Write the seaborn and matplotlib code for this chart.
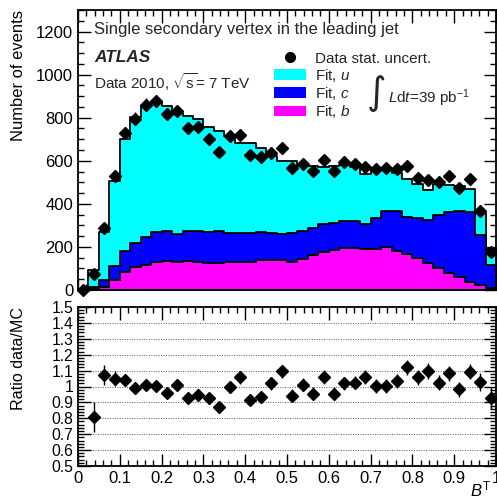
import numpy as np
import pandas as pd
import matplotlib
matplotlib.use("Agg")
import matplotlib.pyplot as plt
from matplotlib.lines import Line2D
from matplotlib.patches import Patch
from matplotlib.ticker import MultipleLocator, FixedLocator, FixedFormatter
import seaborn as sns

# ---- binning: 40 bins of B^T between 0 and 1 ----
n_bins = 40
x_min, x_max = 0.0, 1.0
bin_edges = np.linspace(x_min, x_max, n_bins + 1)
bin_centers = 0.5 * (bin_edges[:-1] + bin_edges[1:])

# ---- observed events per bin ----
data_counts = [0, 75, 289, 531, 728, 796, 861, 878, 818, 830,
               753, 755, 702, 641, 714, 720, 626, 616, 636, 657,
               566, 584, 551, 603, 551, 594, 585, 571, 563, 566,
               563, 577, 521, 512, 503, 529, 474, 515, 366, 178]

# ---- fitted flavour templates (events per bin) ----
fit_u = [0, 81, 223, 394, 517, 585, 607, 605, 581, 559,
         537, 519, 492, 462, 451, 417, 418, 390, 360, 342,
         336, 305, 288, 264, 268, 261, 250, 233, 227, 195,
         178, 177, 158, 143, 142, 127, 118, 109, 100, 76]
fit_c = [0, 9, 32, 65, 98, 114, 129, 138, 137, 131,
         139, 146, 141, 148, 135, 135, 135, 131, 124, 121,
         134, 129, 127, 128, 124, 127, 127, 118, 143, 170,
         182, 170, 186, 196, 248, 281, 306, 323, 233, 108]
fit_b = [0, 3, 15, 47, 85, 106, 116, 132, 135, 130,
         134, 130, 126, 127, 129, 129, 129, 137, 140, 137,
         130, 143, 163, 178, 186, 194, 194, 189, 191, 199,
         183, 168, 148, 127, 101, 81, 59, 39, 23, 8]

flavours = ["u", "c", "b"]
flavour_colors = {"u": "#00FFFF", "c": "#0000FF", "b": "#FF00FF"}

# ---- axis ticks ----
count_ticks = [0, 200, 400, 600, 800, 1000, 1200]
count_tick_labels = ["0", "200", "400", "600", "800", "1000", "1200"]
ratio_ticks = [0.5, 0.6, 0.7, 0.8, 0.9, 1.0, 1.1, 1.2, 1.3, 1.4, 1.5]
ratio_tick_labels = ["0.5", "0.6", "0.7", "0.8", "0.9", "1", "1.1", "1.2", "1.3", "1.4", "1.5"]
x_ticks = [0, 0.1, 0.2, 0.3, 0.4, 0.5, 0.6, 0.7, 0.8, 0.9, 1.0]
x_tick_labels = ["0", "0.1", "0.2", "0.3", "0.4", "0.5", "0.6", "0.7", "0.8", "0.9", "1"]

# ---- derived quantities ----
data_arr = np.asarray(data_counts, dtype=float)
mc_total = np.asarray(fit_u) + np.asarray(fit_c) + np.asarray(fit_b)
data_err = np.sqrt(data_arr)
has_mc = mc_total > 0
ratio = data_arr[has_mc] / mc_total[has_mc]
ratio_err = data_err[has_mc] / mc_total[has_mc]

templates = pd.DataFrame({
    "BT": np.tile(bin_centers, 3),
    "events": np.concatenate([fit_u, fit_c, fit_b]),
    "flavour": np.repeat(flavours, n_bins),
})

# ---- style ----
sns.set_theme(style="white")
plt.rcParams["font.family"] = ["Liberation Sans", "DejaVu Sans"]
plt.rcParams["mathtext.fontset"] = "custom"
plt.rcParams["mathtext.rm"] = "Liberation Sans"
plt.rcParams["mathtext.it"] = "Liberation Sans:italic"
plt.rcParams["mathtext.bf"] = "Liberation Sans:bold"
FS = 11

W, H = 497, 499
fig = plt.figure(figsize=(W / 100, H / 100), dpi=100)
ax_top = fig.add_axes([78 / W, 1 - 290 / H, 418 / W, 280 / H])
ax_rat = fig.add_axes([78 / W, 1 - 466 / H, 418 / W, 159 / H])

# stacked flavour templates
sns.histplot(data=templates, x="BT", weights="events", hue="flavour",
             hue_order=flavours, multiple="stack", element="step",
             bins=[float(e) for e in bin_edges], palette=flavour_colors,
             alpha=1, edgecolor="black", linewidth=1.3, legend=False,
             ax=ax_top)

# data with statistical uncertainties
ax_top.errorbar(bin_centers, data_arr, yerr=data_err, fmt="D", color="black",
                ms=6.3, elinewidth=1, capsize=0, clip_on=False, zorder=5)

ax_rat.errorbar(bin_centers[has_mc], ratio, yerr=ratio_err, fmt="D",
                color="black", ms=6.3, elinewidth=1, capsize=0,
                clip_on=False, zorder=5)

# ---- axes cosmetics ----
for ax in (ax_top, ax_rat):
    ax.set_xlim(x_min, x_max)
    for sp in ax.spines.values():
        sp.set_color("black")
        sp.set_linewidth(1.3)
        sp.set_visible(True)
    ax.xaxis.set_major_locator(FixedLocator(x_ticks))
    ax.xaxis.set_minor_locator(MultipleLocator(0.02))
    ax.tick_params(which="both", direction="in", top=True, right=True,
                   bottom=True, left=True, color="black", labelsize=12,
                   labelcolor="black")
    ax.tick_params(which="major", length=9, width=1)
    ax.tick_params(which="minor", length=4.5, width=1)
    ax.set_facecolor("white")

ax_top.set_ylim(0, 1300)
ax_top.yaxis.set_major_locator(FixedLocator(count_ticks))
ax_top.yaxis.set_major_formatter(FixedFormatter(count_tick_labels))
ax_top.yaxis.set_minor_locator(MultipleLocator(50))
ax_top.tick_params(axis="x", labelbottom=False)
ax_top.set_xlabel("")
ax_top.set_ylabel("Number of events", fontsize=11.9, loc="top", color="black")
ax_top.yaxis.set_label_coords(-0.125, 1.0)

ax_rat.set_ylim(0.5, 1.5)
ax_rat.yaxis.set_major_locator(FixedLocator(ratio_ticks))
ax_rat.yaxis.set_major_formatter(FixedFormatter(ratio_tick_labels))
ax_rat.yaxis.set_minor_locator(MultipleLocator(0.02))
ax_rat.tick_params(axis="y", labelsize=11.3)
ax_rat.xaxis.set_major_formatter(FixedFormatter(x_tick_labels))
ax_rat.yaxis.grid(True, which="major", linestyle=(0, (1, 1.5)),
                  color="#555555", linewidth=0.7)
ax_rat.xaxis.grid(False)
ax_rat.set_axisbelow(True)
ax_rat.set_ylabel("Ratio data/MC", fontsize=11.6, loc="top", color="black")
ax_rat.yaxis.set_label_coords(-0.125, 1.0)
ax_rat.set_xlabel(r"$B^{\mathrm{T}}$", fontsize=12, loc="right", color="black")
ax_rat.xaxis.set_label_coords(0.988, -0.087)

# ---- annotations ----
ax_top.text(0.038, 0.929, "Single secondary vertex in the leading jet",
            transform=ax_top.transAxes, fontsize=12.0, va="center", ha="left")
ax_top.text(0.038, 0.829, "ATLAS", transform=ax_top.transAxes, fontsize=12.4,
            fontweight="bold", fontstyle="italic", va="center", ha="left")
ax_top.text(0.038, 0.743, r"Data 2010, $\sqrt{\mathrm{s}}$= 7 TeV",
            transform=ax_top.transAxes, fontsize=FS, va="center", ha="left")

handles = [
    Line2D([], [], marker="o", color="black", linestyle="none", markersize=7),
    Patch(facecolor=flavour_colors["u"], edgecolor="none"),
    Patch(facecolor=flavour_colors["c"], edgecolor="none"),
    Patch(facecolor=flavour_colors["b"], edgecolor="none"),
]
labels = ["Data stat. uncert.", r"Fit, $u$", r"Fit, $c$", r"Fit, $b$"]
ax_top.legend(handles, labels, loc="upper left", bbox_to_anchor=(0.469, 0.851),
              frameon=False, fontsize=FS, handlelength=2.1, handleheight=0.7,
              handletextpad=0.6, labelspacing=0.08, borderpad=0,
              borderaxespad=0)

ax_top.text(0.690, 0.70, "\u222B", transform=ax_top.transAxes, fontsize=27,
            family="DejaVu Sans", va="center", ha="left")
ax_top.text(0.741, 0.685, r"$L$d$t$=39 pb$^{-1}$", transform=ax_top.transAxes,
            fontsize=FS, va="center", ha="left")

fig.savefig("out.png", dpi=100)
